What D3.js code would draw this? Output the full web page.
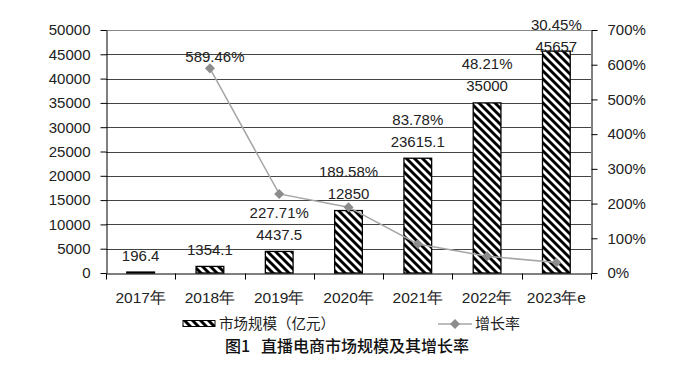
<!DOCTYPE html>
<html>
<head>
<meta charset="utf-8">
<script src="https://cdn.jsdelivr.net/npm/d3@7"></script>
<style>
  body { margin: 0; background: #fff; }
  svg { display: block; font-family: "Liberation Sans", "Noto Sans CJK SC", sans-serif; }
</style>
</head>
<body>
<svg id="chart" width="694" height="365"></svg>
<script>
const years = ["2017年", "2018年", "2019年", "2020年", "2021年", "2022年", "2023年e"];
const marketSize = [196.4, 1354.1, 4437.5, 12850, 23615.1, 35000, 45657];
const marketLabels = ["196.4", "1354.1", "4437.5", "12850", "23615.1", "35000", "45657"];
const growthRate = [null, 589.46, 227.71, 189.58, 83.78, 48.21, 30.45];
const leftTicks = [0, 5000, 10000, 15000, 20000, 25000, 30000, 35000, 40000, 45000, 50000];
const rightTicks = [0, 100, 200, 300, 400, 500, 600, 700];

const W = 694, H = 365;
const margin = { top: 30, right: 103, bottom: 92, left: 106 };
const textColor = "#222";

const svg = d3.select("#chart");

// hatch pattern for bars
const defs = svg.append("defs");
const pat = defs.append("pattern")
  .attr("id", "hatch")
  .attr("patternUnits", "userSpaceOnUse")
  .attr("width", 8)
  .attr("height", 8);
pat.append("rect").attr("width", 8).attr("height", 8).attr("fill", "#fff");
pat.append("path")
  .attr("d", "M-2,-2 L10,10 M-2,6 L2,10 M6,-2 L10,2")
  .attr("stroke", "#000")
  .attr("stroke-width", 2.9);

const x = d3.scaleBand()
  .domain(years)
  .range([margin.left, W - margin.right])
  .padding(0);

const y = d3.scaleLinear()
  .domain([0, 50000])
  .range([H - margin.bottom, margin.top]);

const y2 = d3.scaleLinear()
  .domain([0, 700])
  .range([H - margin.bottom, margin.top]);

const bw = x.bandwidth();

// gridlines
svg.append("g")
  .attr("class", "grid")
  .selectAll("line")
  .data(leftTicks.filter(d => d > 0))
  .join("line")
  .attr("x1", margin.left)
  .attr("x2", W - margin.right)
  .attr("y1", d => Math.round(y(d)) + 0.5)
  .attr("y2", d => Math.round(y(d)) + 0.5)
  .attr("stroke", d => d === 50000 ? "#888" : "#444")
  .attr("stroke-width", 1);

// bars
svg.append("g")
  .selectAll("rect")
  .data(marketSize)
  .join("rect")
  .attr("x", (d, i) => x(years[i]) + bw * 0.3)
  .attr("y", d => y(d))
  .attr("width", bw * 0.4)
  .attr("height", d => y(0) - y(d))
  .attr("fill", "url(#hatch)")
  .attr("stroke", "#000")
  .attr("stroke-width", 1.3);

// left axis
const gl = svg.append("g")
  .attr("transform", `translate(${margin.left + 0.5},0)`)
  .call(d3.axisLeft(y).tickValues(leftTicks).tickSize(6).tickSizeOuter(0).tickPadding(10).tickFormat(d3.format("d")));

// right axis
const gr = svg.append("g")
  .attr("transform", `translate(${W - margin.right + 0.5},0)`)
  .call(d3.axisRight(y2).tickValues(rightTicks).tickSize(6).tickSizeOuter(0).tickPadding(10).tickFormat(d => d + "%"));

// bottom axis
const gb = svg.append("g")
  .attr("transform", `translate(0,${y(0) + 0.5})`)
  .call(d3.axisBottom(x).tickSize(0).tickSizeOuter(0).tickPadding(18));

gb.selectAll(".tick text").attr("font-size", 15.5);

gb.selectAll("line.bound")
  .data(years.map(d => x(d)).concat([x.range()[1]]))
  .join("line")
  .attr("class", "bound")
  .attr("x1", d => Math.round(d) + 0.5)
  .attr("x2", d => Math.round(d) + 0.5)
  .attr("y1", 0)
  .attr("y2", 6)
  .attr("stroke", "#000");

[gl, gr, gb].forEach(g => {
  g.select(".domain").attr("stroke", "#000");
  g.selectAll(".tick line").attr("stroke", "#000");
  g.selectAll("text").attr("fill", textColor).attr("font-family", null);
});
gl.selectAll("text").attr("font-size", 15);
gr.selectAll("text").attr("font-size", 15);

// growth line
const pts = growthRate
  .map((v, i) => ({ v, i }))
  .filter(d => d.v != null);

const line = d3.line()
  .x(d => x(years[d.i]) + bw / 2)
  .y(d => y2(d.v));

svg.append("path")
  .datum(pts)
  .attr("d", line)
  .attr("fill", "none")
  .attr("stroke", "#a6a6a6")
  .attr("stroke-width", 1.5);

const diamond = d3.symbol().type(d3.symbolDiamond2).size(64);

svg.append("g")
  .selectAll("path")
  .data(pts)
  .join("path")
  .attr("d", diamond)
  .attr("transform", d => `translate(${x(years[d.i]) + bw / 2},${y2(d.v)})`)
  .attr("fill", "#8c8c8c");

// data labels
const barLabelY = marketSize.map(d => Math.max(y(d) - 11.5, margin.top + 22));

svg.append("g")
  .selectAll("text")
  .data(marketLabels)
  .join("text")
  .attr("x", (d, i) => x(years[i]) + bw / 2)
  .attr("y", (d, i) => barLabelY[i])
  .attr("text-anchor", "middle")
  .attr("font-size", 15)
  .attr("fill", textColor)
  .text(d => d);

svg.append("g")
  .selectAll("text")
  .data(pts)
  .join("text")
  .attr("x", d => x(years[d.i]) + bw / 2 + (y2(d.v) < barLabelY[d.i] - 60 ? 5 : 0))
  .attr("y", d => {
    const py = y2(d.v);
    return py < barLabelY[d.i] - 60 ? py - 6 : barLabelY[d.i] - 22;
  })
  .attr("text-anchor", "middle")
  .attr("font-size", 15)
  .attr("fill", textColor)
  .text(d => d3.format(".2f")(d.v) + "%");

// legend
const lg = svg.append("g");
lg.append("rect")
  .attr("x", 183).attr("y", 320.5)
  .attr("width", 32).attr("height", 6)
  .attr("fill", "url(#hatch)")
  .attr("stroke", "#000")
  .attr("stroke-width", 1);
lg.append("text")
  .attr("x", 219).attr("y", 329)
  .attr("font-size", 14.5)
  .attr("font-family", "Noto Sans CJK SC")
  .attr("fill", textColor)
  .text("市场规模（亿元）");

lg.append("line")
  .attr("x1", 438).attr("x2", 472)
  .attr("y1", 324).attr("y2", 324)
  .attr("stroke", "#a6a6a6")
  .attr("stroke-width", 1.5);
lg.append("path")
  .attr("d", diamond)
  .attr("transform", "translate(455,324)")
  .attr("fill", "#8c8c8c");
lg.append("text")
  .attr("x", 475).attr("y", 329)
  .attr("font-size", 15)
  .attr("font-family", "Noto Sans CJK SC")
  .attr("fill", textColor)
  .text("增长率");

// title
const title = svg.append("text")
  .attr("x", W / 2)
  .attr("y", 351.5)
  .attr("text-anchor", "middle")
  .attr("font-size", 16)
  .attr("font-weight", 500)
  .attr("font-family", "Noto Sans CJK SC")
  .attr("fill", "#111");
title.append("tspan").text("图1");
title.append("tspan").attr("dx", 11).text("直播电商市场规模及其增长率");
</script>
</body>
</html>
